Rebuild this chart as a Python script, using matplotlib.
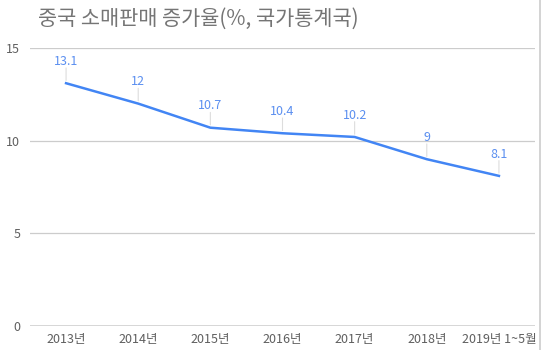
import matplotlib.pyplot as plt
from matplotlib.lines import Line2D

plt.rcParams['font.family'] = ['Noto Sans CJK KR', 'DejaVu Sans']

# data
years = ["2013년", "2014년", "2015년", "2016년", "2017년", "2018년", "2019년 1~5월"]
growth = [13.1, 12, 10.7, 10.4, 10.2, 9, 8.1]
value_labels = ["13.1", "12", "10.7", "10.4", "10.2", "9", "8.1"]
y_ticks = [0, 5, 10, 15]

line_color = "#4285F4"
label_color = "#5B8FF0"

fig = plt.figure(figsize=(5.41, 3.5), dpi=100)
ax = fig.add_axes([30 / 541, 1 - 326 / 350, 505 / 541, 278 / 350])

x = list(range(len(years)))
ax.plot(x, growth, color=line_color, linewidth=1.8, zorder=3)

# leader lines and value labels
for xi, yi, lab in zip(x, growth, value_labels):
    ax.annotate("", xy=(xi, yi), xytext=(0, 11), textcoords="offset points",
                xycoords="data",
                arrowprops=dict(arrowstyle="-", color="#dddddd", lw=0.8,
                                shrinkA=0, shrinkB=2), annotation_clip=False)
    ax.annotate(lab, xy=(xi, yi), xytext=(0, 11), textcoords="offset points",
                ha="center", va="bottom", fontsize=9, color=label_color,
                annotation_clip=False)

ax.set_xlim(-0.5, len(years) - 0.5)
ax.set_ylim(0, 15)
ax.set_yticks(y_ticks)
ax.set_yticklabels([str(t) for t in y_ticks])
ax.set_xticks(x)
ax.set_xticklabels(years)

for t in y_ticks[1:]:
    ax.axhline(t, color="#cccccc", linewidth=0.9, zorder=1)
ax.axhline(0, color="#333333", linewidth=1.0, zorder=2)

for s in ax.spines.values():
    s.set_visible(False)
ax.tick_params(axis="both", length=0, labelsize=9, colors="#5f5f5f")
ax.tick_params(axis="y", pad=7)
ax.tick_params(axis="x", pad=5)

fig.text(38 / 541, 1 - 19 / 350, "중국 소매판매 증가율(%, 국가통계국)", fontsize=15,
         color="#757575", ha="left", va="center")

# right border of the image
fig.add_artist(Line2D([539.5 / 541, 539.5 / 541], [0, 1], color="#cccccc", linewidth=1.2))

fig.savefig("out.png", dpi=100)
